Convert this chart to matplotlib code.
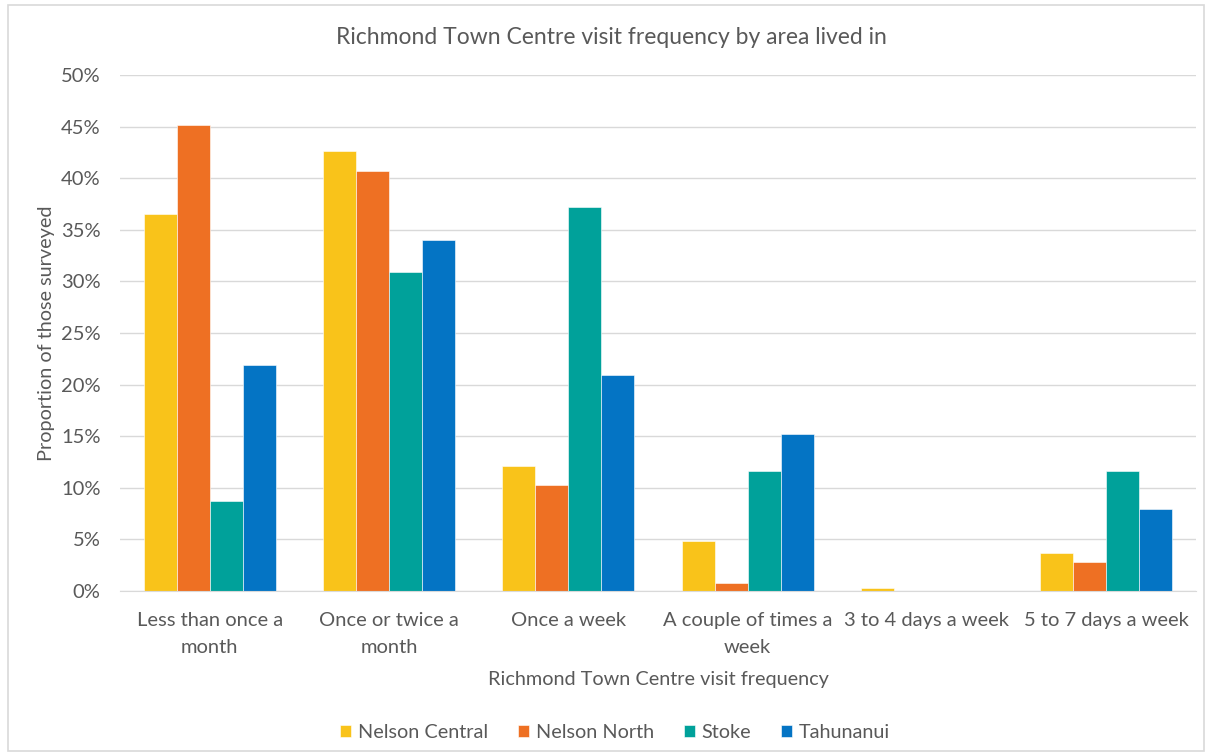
import numpy as np
import matplotlib
matplotlib.use("Agg")
import matplotlib.pyplot as plt
from matplotlib.patches import Rectangle
from matplotlib.ticker import PercentFormatter

categories = ["Less than once a\nmonth", "Once or twice a\nmonth", "Once a week",
              "A couple of times a\nweek", "3 to 4 days a week", "5 to 7 days a week"]
series_names = ["Nelson Central", "Nelson North", "Stoke", "Tahunanui"]
nelson_central = [36.5, 42.6, 12.1, 4.8, 0.3, 3.7]
nelson_north = [45.2, 40.7, 10.3, 0.8, 0.0, 2.8]
stoke = [8.7, 30.9, 37.2, 11.6, 0.0, 11.6]
tahunanui = [21.9, 34.0, 20.9, 15.2, 0.0, 7.9]
colors = ["#F9C31A", "#EE7023", "#00A19A", "#0474C4"]

txt = "#595959"
plt.rcParams['font.family'] = ['Lato', 'DejaVu Sans']

fig = plt.figure(figsize=(12.1, 7.55), dpi=100)
ax = fig.add_axes([120/1210, 1-591/755, (1196-120)/1210, (591-75)/755])

# outer frame of the chart
fig.patches.append(Rectangle((8/1210, 4/755), 1196/1210, 746/755, transform=fig.transFigure,
                             fill=False, edgecolor="#D9D9D9", linewidth=1.2))

x = np.arange(len(categories))
w = 0.184
all_series = [nelson_central, nelson_north, stoke, tahunanui]
for i, (vals, name, c) in enumerate(zip(all_series, series_names, colors)):
    ax.bar(x + (i - 1.5)*w, vals, width=w, color=c, label=name,
           edgecolor="white", linewidth=0.4, zorder=2)

ax.set_xlim(-0.5, len(categories) - 0.5)
ax.set_ylim(0, 50)
ax.set_yticks(np.arange(0, 51, 5))
ax.yaxis.set_major_formatter(PercentFormatter(decimals=0))
ax.grid(axis='y', color="#D9D9D9", linewidth=1, zorder=0)
ax.set_axisbelow(True)
for s in ["top", "right", "left"]:
    ax.spines[s].set_visible(False)
ax.spines["bottom"].set_color("#D9D9D9")
ax.tick_params(axis='both', length=0, labelcolor=txt, labelsize=14.5)
ax.tick_params(axis='y', pad=14)
ax.tick_params(axis='x', pad=15)
ax.set_xticks(x)
ax.set_xticklabels(categories, linespacing=1.72)

# title is centred on the whole chart, not the plot area
ax.set_title("Richmond Town Centre visit frequency by area lived in", color=txt,
             fontsize=16.5, pad=22, x=(611-120)/1076)
ax.set_xlabel("Richmond Town Centre visit frequency", color=txt, fontsize=14.3, labelpad=11)
ax.set_ylabel("Proportion of those surveyed", color=txt, fontsize=14.3, labelpad=4)

fig.legend(loc="center", bbox_to_anchor=(615/1210, 1-733/755), ncol=4, frameon=False,
           fontsize=14.3, labelcolor=txt, handlelength=0.55, handleheight=0.55,
           handletextpad=0.35, columnspacing=1.5)

fig.savefig("out.png", dpi=100)
